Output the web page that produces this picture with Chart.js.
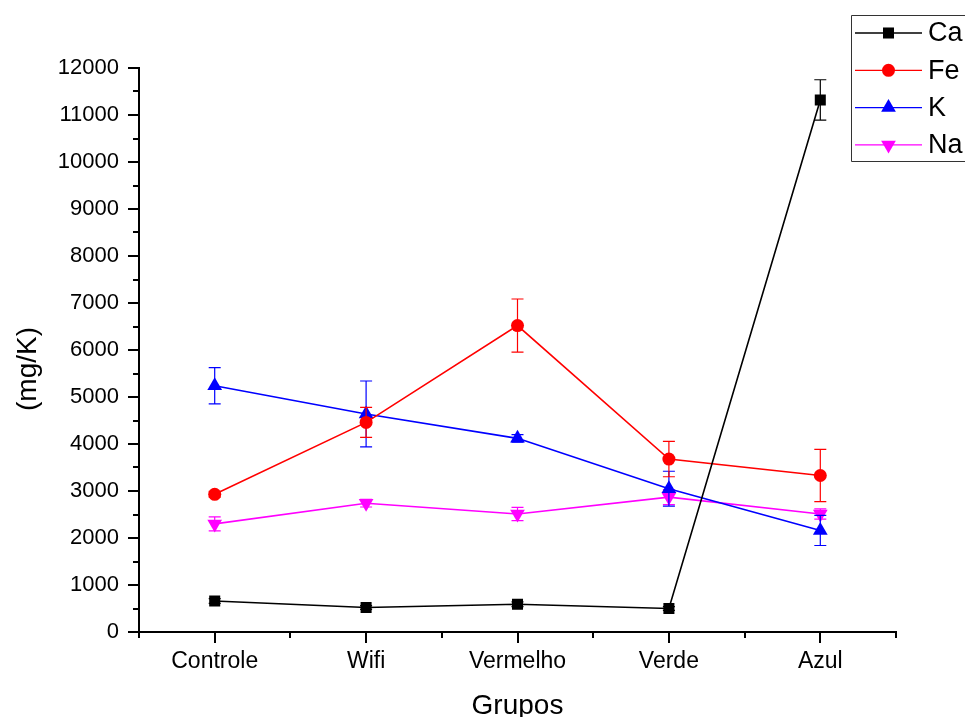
<!DOCTYPE html>
<html>
<head>
<meta charset="utf-8">
<script src="https://cdn.jsdelivr.net/npm/chart.js@4.4.0/dist/chart.umd.min.js"></script>
<style>
  html, body { margin: 0; padding: 0; background: #fff; overflow: hidden; }
  #chart { display: block; }
</style>
</head>
<body>
<canvas id="chart" width="965" height="717"></canvas>
<script>
// groups on the x axis
const groups = ['Controle', 'Wifi', 'Vermelho', 'Verde', 'Azul'];

// mean values (mg/K) and error bar half-heights
const caValues = [660, 520, 590, 500, 11320];
const caErrors = [50, 40, 50, 40, 430];
const feValues = [2930, 4460, 6520, 3680, 3330];
const feErrors = [60, 320, 565, 377, 555];
const kValues = [5240, 4640, 4120, 3050, 2160];
const kErrors = [385, 700, 80, 370, 320];
const naValues = [2300, 2740, 2510, 2870, 2510];
const naErrors = [150, 80, 140, 160, 110];

const yMin = 0;
const yMax = 12000;
const yStep = 1000;
const yTitle = '(mg/K)';

const FONT = "'Liberation Sans', Arial, sans-serif";

function drawMarker(ctx, style, x, y, r, rotation) {
    ctx.beginPath();
    if (style === 'rect') {
        const s = Math.SQRT1_2 * r;
        ctx.rect(x - s, y - s, 2 * s, 2 * s);
    } else if (style === 'circle') {
        ctx.arc(x, y, r, 0, Math.PI * 2);
    } else {
        let rad = (rotation || 0) * Math.PI / 180;
        ctx.moveTo(x + Math.sin(rad) * r, y - Math.cos(rad) * r);
        rad += Math.PI * 2 / 3;
        ctx.lineTo(x + Math.sin(rad) * r, y - Math.cos(rad) * r);
        rad += Math.PI * 2 / 3;
        ctx.lineTo(x + Math.sin(rad) * r, y - Math.cos(rad) * r);
        ctx.closePath();
    }
    ctx.fill();
}

// error bars under each series
const errorBars = {
    id: 'errorBars',
    beforeDatasetDraw(chart, args) {
        const ds = chart.data.datasets[args.index];
        const yScale = chart.scales.y;
        const ctx = chart.ctx;
        ctx.save();
        ctx.strokeStyle = ds.borderColor;
        ctx.lineWidth = 1.2;
        args.meta.data.forEach(function (pt, i) {
            const top = yScale.getPixelForValue(ds.data[i] + ds.errors[i]);
            const bot = yScale.getPixelForValue(ds.data[i] - ds.errors[i]);
            ctx.beginPath();
            ctx.moveTo(pt.x, top); ctx.lineTo(pt.x, bot);
            ctx.moveTo(pt.x - 6, top); ctx.lineTo(pt.x + 6, top);
            ctx.moveTo(pt.x - 6, bot); ctx.lineTo(pt.x + 6, bot);
            ctx.stroke();
        });
        ctx.restore();
    }
};

// minor ticks, y title and boxed legend at top right
const decorations = {
    id: 'decorations',
    afterDraw(chart) {
        const ctx = chart.ctx;
        const x = chart.scales.x;
        const y = chart.scales.y;
        const area = chart.chartArea;
        ctx.save();
        ctx.strokeStyle = '#000';
        ctx.lineWidth = 2;
        ctx.beginPath();
        for (let v = yMin + yStep / 2; v < yMax; v += yStep) {
            const py = Math.round(y.getPixelForValue(v));
            ctx.moveTo(area.left - 6, py);
            ctx.lineTo(area.left, py);
        }
        const spacing = x.getPixelForValue(1) - x.getPixelForValue(0);
        for (let i = 0; i <= groups.length; i++) {
            const px = Math.round(x.getPixelForValue(0) - spacing / 2 + i * spacing);
            ctx.moveTo(px, area.bottom);
            ctx.lineTo(px, area.bottom + 6);
        }
        ctx.stroke();

        // y axis title, sits a bit below the middle of the axis
        ctx.save();
        ctx.translate(28, 369);
        ctx.rotate(-Math.PI / 2);
        ctx.fillStyle = '#000';
        ctx.font = '28px ' + FONT;
        ctx.textAlign = 'center';
        ctx.textBaseline = 'middle';
        ctx.fillText(yTitle, 0, 0);
        ctx.restore();

        // legend, box runs off the right edge
        ctx.lineWidth = 1;
        ctx.strokeStyle = '#333';
        ctx.beginPath();
        ctx.moveTo(1000, 15.5);
        ctx.lineTo(851.5, 15.5);
        ctx.lineTo(851.5, 161.5);
        ctx.lineTo(1000, 161.5);
        ctx.stroke();
        ctx.font = '27px ' + FONT;
        ctx.textBaseline = 'middle';
        ctx.textAlign = 'left';
        chart.data.datasets.forEach(function (ds, i) {
            const ly = 33 + i * 37.3;
            ctx.strokeStyle = ds.borderColor;
            ctx.lineWidth = 1.3;
            ctx.beginPath();
            ctx.moveTo(855, ly);
            ctx.lineTo(922, ly);
            ctx.stroke();
            ctx.fillStyle = ds.pointBackgroundColor;
            drawMarker(ctx, ds.pointStyle, 888.5, ly, ds.pointRadius, ds.pointRotation);
            ctx.fillStyle = '#000';
            ctx.fillText(ds.label, 928, ly + 1);
        });
        ctx.restore();
    }
};

function series(label, values, errors, color, style, radius, rotation) {
    return {
        label: label,
        data: values,
        errors: errors,
        borderColor: color,
        backgroundColor: color,
        pointBackgroundColor: color,
        pointBorderColor: color,
        pointBorderWidth: 0,
        pointStyle: style,
        pointRadius: radius,
        pointHoverRadius: radius,
        pointRotation: rotation || 0,
        borderWidth: 1.6,
        tension: 0,
        fill: false
    };
}

const chart = new Chart(document.getElementById('chart').getContext('2d'), {
    type: 'line',
    data: {
        labels: groups,
        datasets: [
            series('Ca', caValues, caErrors, '#000000', 'rect', 7.8),
            series('Fe', feValues, feErrors, '#ff0000', 'circle', 6.5),
            series('K', kValues, kErrors, '#0000ff', 'triangle', 8.5),
            series('Na', naValues, naErrors, '#ff00ff', 'triangle', 8.5, 180)
        ]
    },
    options: {
        responsive: false,
        animation: false,
        layout: { padding: { top: 68, right: 69, left: 0, bottom: 0 } },
        plugins: {
            legend: { display: false },
            tooltip: { enabled: false }
        },
        scales: {
            x: {
                offset: true,
                grid: { drawOnChartArea: false, color: '#000', tickLength: 11, lineWidth: 2, offset: false },
                border: { color: '#000', width: 2 },
                ticks: { color: '#000', font: { family: FONT, size: 23 }, padding: 5, maxRotation: 0, autoSkip: false },
                title: { display: true, text: 'Grupos', color: '#000', font: { family: FONT, size: 28, lineHeight: 1 }, padding: { top: 0, bottom: -3 } },
                afterFit: function (scale) { scale.height = 85; }
            },
            y: {
                min: yMin,
                max: yMax,
                grid: { drawOnChartArea: false, color: '#000', tickLength: 11, lineWidth: 2 },
                border: { color: '#000', width: 2 },
                ticks: {
                    stepSize: yStep, color: '#000', font: { family: FONT, size: 22 }, padding: 9,
                    callback: function (value) { return String(value); }
                },
                title: { display: false },
                afterFit: function (scale) { scale.width = 139; }
            }
        }
    },
    plugins: [errorBars, decorations]
});
</script>
</body>
</html>
